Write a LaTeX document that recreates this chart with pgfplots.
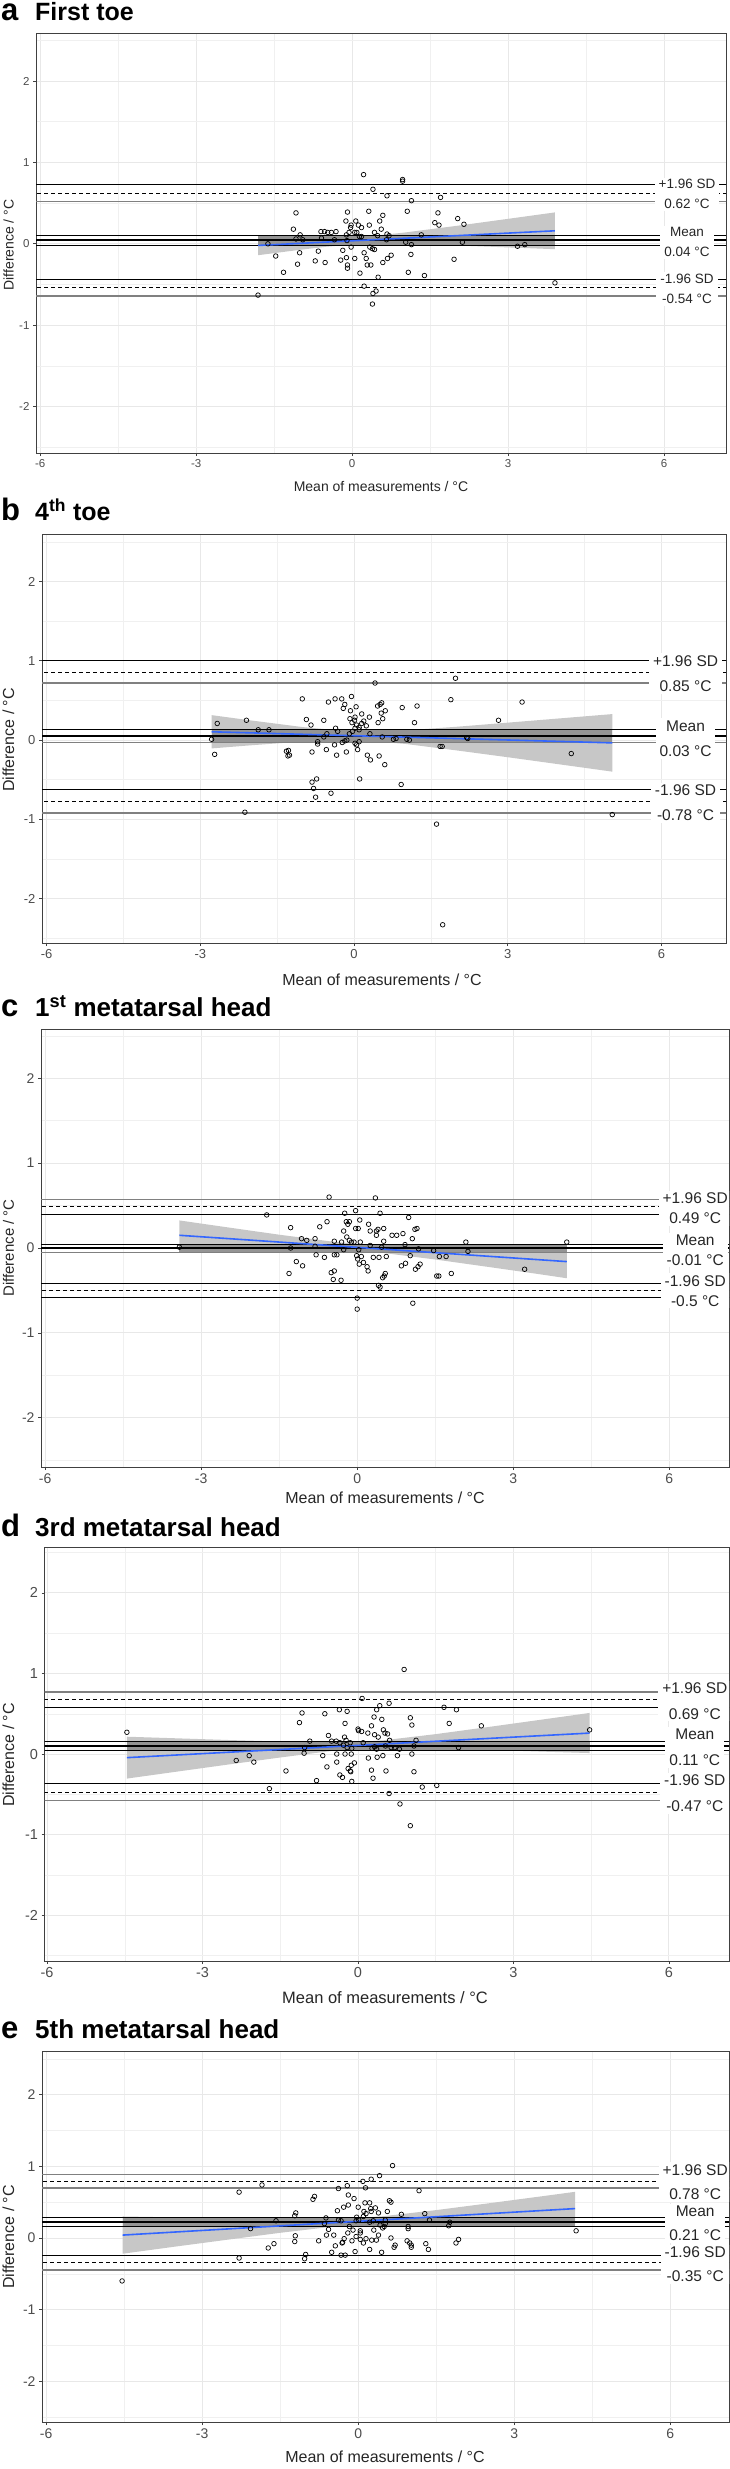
\documentclass[border=0pt]{standalone}
\usepackage{fontspec}
\setmainfont{Liberation Sans}
\usepackage{pgfplots}
\pgfplotsset{compat=1.18}

\definecolor{fitblue}{RGB}{51,102,255}
\tikzset{
  thinL/.style={black, line width=0.9pt},
  dashL/.style={black, line width=0.9pt, dash pattern=on 4pt off 3pt},
  grayL/.style={black!50, line width=1.4pt},
  meanL/.style={black, line width=2pt},
  lab/.style={fill=white, align=center, inner xsep=4pt, inner ysep=2pt, text=black!85},
}
\pgfplotsset{
  ba/.style={
    scale only axis, anchor=north west,
    axis line style={draw=black!75, line width=1pt},
    tick style={draw=black!75, line width=0.8pt},
    tick align=outside, major tick length=3pt, minor tick length=0pt,
    xtick={-6,-3,0,3,6}, xticklabels={-6,-3,0,3,6},
    ytick={-2,-1,0,1,2}, yticklabels={-2,-1,0,1,2},
    minor xtick={-4.5,-1.5,1.5,4.5},
    minor ytick={-2.5,-1.5,-0.5,0.5,1.5,2.5},
    grid=both,
    major grid style={black!9, line width=0.9pt},
    minor grid style={black!6, line width=0.5pt},
    xtick pos=left, ytick pos=left,
    ticklabel style={text=black!70},
  },
  pts/.style={only marks, mark=o, mark size=2.3pt, mark options={line width=0.7pt, black}},
  fit/.style={fitblue, line width=1.6pt, no marks},
}
\newcommand{\hl}[2]{\addplot[#2, no marks, forget plot] coordinates {(-7,#1) (8,#1)};}

\begin{document}
\begin{tikzpicture}
\path[use as bounding box] (0,0) rectangle (730pt,-2469pt);

% ---------------- a: First toe
\begin{axis}[ba, at={(36pt,-33pt)}, width=690pt, height=420pt,
  xmin=-6.08, xmax=7.19, ymin=-2.57, ymax=2.59,
  ticklabel style={font=\fontsize{11.5}{12}\selectfont}]
\addplot[fill=black!22, draw=none] coordinates {(-1.81,0.100)(-1,0.084)(-0.5,0.078)(0,0.082)(0.5,0.104)(1,0.138)(2,0.220)(3,0.307)(3.9,0.386)
  (3.9,-0.066)(3,-0.044)(2,-0.020)(1,0.000)(0.5,0.002)(0,-0.008)(-0.5,-0.036)(-1,-0.073)(-1.81,-0.140)} -- cycle;
\addplot[fill=black!42, draw=none] coordinates {(-1.81,0.10)(3.9,0.10)(3.9,-0.02)(-1.81,-0.02)} -- cycle;
\hl{0.73}{thinL}\hl{0.62}{dashL}\hl{0.52}{grayL}
\hl{0.10}{thinL}\hl{0.045}{meanL}\hl{-0.02}{thinL}
\hl{-0.44}{thinL}\hl{-0.54}{dashL}\hl{-0.64}{grayL}
\addplot[pts] coordinates {(0.22,0.85)(0.97,0.79)(0.97,0.77)(0.40,0.67)(0.67,0.59)(1.70,0.57)(1.14,0.53)(-1.08,0.38)(-0.09,0.39)(0.32,0.40)(1.06,0.40)(0.59,0.35)(1.65,0.38)(-0.12,0.28)(0.07,0.28)(0.53,0.28)(2.03,0.31)(1.59,0.26)(1.67,0.23)(2.15,0.24)(-0.02,0.23)(0.12,0.23)(0.33,0.23)(-0.03,0.20)(0.18,0.20)(-1.13,0.18)(0.56,0.18)(-0.60,0.15)(-0.53,0.15)(-0.47,0.14)(-0.40,0.14)(-0.31,0.15)(-1.00,0.11)(-0.06,0.14)(0.05,0.14)(0.09,0.14)(0.43,0.14)(0.67,0.12)(1.33,0.11)(-0.11,0.11)(0.14,0.09)(0.18,0.09)(0.49,0.10)(0.71,0.10)(-1.08,0.06)(-0.95,0.05)(-0.59,0.07)(-0.34,0.05)(-0.10,0.04)(0.66,0.05)(1.03,0.02)(2.12,0.02)(-1.62,0.00)(1.14,-0.01)(-0.02,-0.04)(0.34,-0.04)(0.39,-0.06)(0.43,-0.07)(3.18,-0.03)(3.32,-0.01)(-0.18,-0.08)(-0.65,-0.09)(-1.01,-0.11)(0.23,-0.11)(1.13,-0.13)(0.75,-0.14)(-1.47,-0.15)(-0.11,-0.17)(0.05,-0.18)(0.27,-0.18)(-0.22,-0.20)(0.68,-0.18)(1.96,-0.19)(-0.71,-0.21)(0.59,-0.23)(-0.52,-0.23)(-1.05,-0.25)(0.29,-0.26)(0.36,-0.26)(-0.09,-0.26)(-0.09,-0.30)(-1.32,-0.35)(1.08,-0.35)(0.15,-0.36)(1.39,-0.39)(0.50,-0.41)(3.90,-0.48)(0.23,-0.52)(0.46,-0.58)(0.40,-0.61)(-1.81,-0.63)(0.39,-0.74)};
\addplot[fit] coordinates {(-1.81,-0.02)(3.9,0.16)};
\node[lab, font=\fontsize{13.5}{19.7}\selectfont] at (axis cs:6.44,0.61) {+1.96 SD\\0.62 °C};
\node[lab, font=\fontsize{13.5}{19.7}\selectfont] at (axis cs:6.44,0.02) {Mean\\0.04 °C};
\node[lab, font=\fontsize{13.5}{19.7}\selectfont] at (axis cs:6.44,-0.555) {-1.96 SD\\-0.54 °C};
\end{axis}
\node[anchor=base west, inner sep=0, font=\fontsize{31}{31}\selectfont\bfseries] at (1pt,-20.7pt) {a};
\node[anchor=base west, inner sep=0, font=\fontsize{25}{25}\selectfont\bfseries] at (35pt,-20.7pt) {First toe};
\node[rotate=90, text=black!85, font=\fontsize{14}{14}\selectfont] at (8.5pt,-245pt) {Difference / °C};
\node[text=black!85, font=\fontsize{14}{14}\selectfont] at (381pt,-486pt) {Mean of measurements / °C};

% ---------------- b: 4th toe
\begin{axis}[ba, at={(42pt,-534pt)}, width=684pt, height=409pt,
  xmin=-6.09, xmax=7.26, ymin=-2.56, ymax=2.60,
  ticklabel style={font=\fontsize{13}{13}\selectfont}]
\addplot[fill=black!22, draw=none] coordinates {(-2.78,0.315)(-2,0.247)(-1,0.164)(0,0.105)(1,0.122)(2,0.168)(3,0.220)(4,0.273)(5.04,0.328)
  (5.04,-0.398)(4,-0.305)(3,-0.216)(2,-0.130)(1,-0.048)(0,0.005)(-1,-0.018)(-2,-0.065)(-2.78,-0.105)} -- cycle;
\addplot[fill=black!42, draw=none] coordinates {(-2.78,0.13)(5.04,0.13)(5.04,-0.03)(-2.78,-0.03)} -- cycle;
\hl{1.0}{thinL}\hl{0.855}{dashL}\hl{0.72}{grayL}
\hl{0.13}{thinL}\hl{0.05}{meanL}\hl{-0.03}{grayL}
\hl{-0.62}{thinL}\hl{-0.77}{dashL}\hl{-0.92}{grayL}
\addplot[pts] coordinates {(0.41,0.72)(1.98,0.78)(-1.01,0.52)(-0.50,0.48)(-0.37,0.52)(-0.24,0.52)(-0.05,0.55)(-0.18,0.45)(-0.21,0.40)(0.04,0.42)(0.51,0.45)(0.54,0.47)(0.46,0.43)(0.61,0.37)(0.53,0.34)(0.94,0.41)(1.23,0.43)(1.89,0.51)(-0.07,0.37)(0.15,0.33)(-0.93,0.26)(-0.59,0.25)(-0.84,0.19)(-0.08,0.27)(0.02,0.29)(0.30,0.29)(0.56,0.27)(-0.04,0.22)(0.01,0.25)(0.05,0.19)(0.10,0.16)(0.15,0.21)(0.19,0.24)(0.24,0.18)(0.02,0.15)(0.10,0.13)(0.47,0.22)(1.18,0.22)(-0.36,0.15)(-0.32,0.11)(-1.87,0.13)(-1.66,0.13)(-0.53,0.08)(-0.09,0.08)(-0.03,0.11)(-0.14,0.00)(0.31,0.08)(0.55,0.04)(0.77,0.01)(1.03,0.01)(-0.59,0.04)(-0.71,-0.02)(-0.71,-0.05)(-0.23,-0.03)(-0.18,-0.01)(-0.38,-0.06)(0.02,-0.04)(0.10,-0.02)(0.05,-0.06)(1.68,-0.08)(2.20,0.03)(0.07,-0.12)(-0.54,-0.12)(-0.82,-0.15)(-0.15,-0.15)(-1.32,-0.14)(-1.29,-0.20)(-0.34,-0.19)(0.26,-0.19)(0.32,-0.25)(0.49,-0.20)(0.60,-0.31)(0.11,-0.49)(0.92,-0.56)(-0.73,-0.49)(-0.82,-0.53)(-0.79,-0.61)(-0.75,-0.72)(-0.45,-0.67)(-2.78,0.01)(-2.72,-0.18)(-2.67,0.21)(-2.10,0.25)(-2.13,-0.91)(-1.28,-0.13)(-1.26,-0.19)(2.82,0.25)(3.28,0.48)(4.24,-0.17)(5.04,-0.94)(1.61,-1.06)(1.73,-2.33)(1.72,-0.08)(2.22,0.02)(0.82,0.02)(1.08,0.00)};
\addplot[fit] coordinates {(-2.78,0.105)(5.04,-0.035)};
\node[lab, font=\fontsize{15.5}{25.3}\selectfont] at (axis cs:6.47,0.84) {+1.96 SD\\0.85 °C};
\node[lab, font=\fontsize{15.5}{25.3}\selectfont] at (axis cs:6.47,0.02) {Mean\\0.03 °C};
\node[lab, font=\fontsize{15.5}{25.3}\selectfont] at (axis cs:6.47,-0.79) {-1.96 SD\\-0.78 °C};
\end{axis}
\node[anchor=base west, inner sep=0, font=\fontsize{31}{31}\selectfont\bfseries] at (1pt,-520.7pt) {b};
\node[anchor=base west, inner sep=0, font=\fontsize{25}{25}\selectfont\bfseries] at (35pt,-520.7pt) {4\textsuperscript{th} toe};
\node[rotate=90, text=black!85, font=\fontsize{16}{16}\selectfont] at (8.5pt,-740pt) {Difference / °C};
\node[text=black!85, font=\fontsize{16}{16}\selectfont] at (382pt,-980pt) {Mean of measurements / °C};

% ---------------- c: 1st metatarsal head
\begin{axis}[ba, at={(41pt,-1029pt)}, width=688pt, height=438pt,
  xmin=-6.08, xmax=7.15, ymin=-2.58, ymax=2.58,
  ticklabel style={font=\fontsize{14}{14}\selectfont}]
\addplot[fill=black!22, draw=none] coordinates {(-3.42,0.325)(-2.5,0.244)(-1.5,0.157)(-0.5,0.077)(0,0.047)(0.5,0.030)(1.5,0.023)(2.5,0.026)(3.5,0.030)(4.03,0.033)
  (4.03,-0.356)(3.5,-0.308)(2.5,-0.221)(1.5,-0.135)(0.5,-0.058)(0,-0.033)(-0.5,-0.021)(-1.5,-0.017)(-2.5,-0.021)(-3.42,-0.025)} -- cycle;
\addplot[fill=black!42, draw=none] coordinates {(-3.42,0.04)(4.03,0.04)(4.03,-0.055)(-3.42,-0.055)} -- cycle;
\hl{0.57}{grayL}\hl{0.49}{dashL}\hl{0.40}{thinL}
\hl{0.04}{thinL}\hl{-0.005}{meanL}\hl{-0.055}{grayL}
\hl{-0.42}{thinL}\hl{-0.50}{dashL}\hl{-0.58}{thinL}
\addplot[pts] coordinates {(-0.54,0.60)(0.35,0.59)(-0.03,0.44)(-0.24,0.41)(0.44,0.41)(0.99,0.36)(-1.28,0.24)(-0.72,0.25)(-0.58,0.31)(-0.21,0.31)(-0.15,0.31)(0.05,0.33)(-0.18,0.28)(0.22,0.28)(-0.03,0.23)(0.02,0.23)(-0.26,0.20)(0.25,0.20)(0.37,0.20)(0.40,0.22)(0.37,0.15)(0.51,0.23)(1.11,0.22)(1.15,0.23)(0.88,0.17)(0.67,0.15)(0.76,0.15)(-1.07,0.11)(-0.97,0.09)(-0.81,0.11)(-0.20,0.13)(-0.15,0.09)(-0.11,0.07)(-0.06,0.07)(0.06,0.07)(-0.44,0.08)(-0.30,0.07)(0.51,0.08)(1.06,0.11)(0.92,0.04)(2.09,0.07)(-1.28,0.00)(-0.81,0.02)(0.03,-0.02)(0.25,0.03)(0.47,0.01)(1.18,-0.01)(1.47,-0.03)(2.13,-0.04)(-0.26,-0.02)(-0.79,-0.08)(-0.63,-0.11)(-0.44,-0.08)(-0.39,-0.08)(-0.01,-0.09)(0.08,-0.10)(0.01,-0.13)(0.04,-0.19)(0.31,-0.11)(0.42,-0.11)(0.56,-0.10)(1.02,-0.09)(1.58,-0.10)(1.71,-0.10)(-1.17,-0.16)(-1.05,-0.21)(0.12,-0.17)(0.19,-0.22)(0.21,-0.27)(0.85,-0.21)(0.93,-0.18)(1.21,-0.19)(1.17,-0.22)(1.12,-0.25)(-1.31,-0.30)(-0.50,-0.29)(-0.44,-0.27)(-0.46,-0.37)(-0.31,-0.38)(0.54,-0.30)(0.52,-0.33)(0.49,-0.35)(1.53,-0.33)(1.57,-0.33)(1.81,-0.30)(0.41,-0.44)(0.44,-0.46)(0.00,-0.59)(0.00,-0.72)(1.07,-0.65)(-3.42,0.01)(-1.74,0.39)(3.22,-0.25)(4.03,0.07)};
\addplot[fit] coordinates {(-3.42,0.15)(4.03,-0.16)};
\node[lab, font=\fontsize{15.5}{20}\selectfont] at (axis cs:6.5,0.465) {+1.96 SD\\0.49 °C};
\node[lab, font=\fontsize{15.5}{20}\selectfont] at (axis cs:6.5,-0.023) {Mean\\-0.01 °C};
\node[lab, font=\fontsize{15.5}{20}\selectfont] at (axis cs:6.5,-0.505) {-1.96 SD\\-0.5 °C};
\end{axis}
\node[anchor=base west, inner sep=0, font=\fontsize{31}{31}\selectfont\bfseries] at (1pt,-1016.7pt) {c};
\node[anchor=base west, inner sep=0, font=\fontsize{26}{26}\selectfont\bfseries] at (35pt,-1016.7pt) {1\textsuperscript{st} metatarsal head};
\node[rotate=90, text=black!85, font=\fontsize{15}{15}\selectfont] at (8.5pt,-1248pt) {Difference / °C};
\node[text=black!85, font=\fontsize{16}{16}\selectfont] at (385pt,-1498pt) {Mean of measurements / °C};

% ---------------- d: 3rd metatarsal head
\begin{axis}[ba, at={(44.5pt,-1547pt)}, width=684.5pt, height=414pt,
  xmin=-6.05, xmax=7.16, ymin=-2.57, ymax=2.57,
  ticklabel style={font=\fontsize{14.5}{14.5}\selectfont}]
\addplot[fill=black!22, draw=none] coordinates {(-4.46,0.215)(-3.5,0.195)(-2.5,0.174)(-1.5,0.155)(-0.5,0.143)(0,0.148)(0.5,0.171)(1.5,0.247)(2.5,0.334)(3.5,0.423)(4.47,0.510)
  (4.47,0.012)(3.5,0.031)(2.5,0.052)(1.5,0.071)(0.5,0.079)(0,0.068)(-0.5,0.039)(-1.5,-0.043)(-2.5,-0.130)(-3.5,-0.219)(-4.46,-0.305)} -- cycle;
\addplot[fill=black!42, draw=none] coordinates {(-4.46,0.15)(4.47,0.15)(4.47,0.04)(-4.46,0.04)} -- cycle;
\hl{0.77}{grayL}\hl{0.68}{dashL}\hl{0.58}{thinL}
\hl{0.15}{thinL}\hl{0.10}{meanL}\hl{0.04}{thinL}
\hl{-0.37}{thinL}\hl{-0.48}{dashL}\hl{-0.58}{grayL}
\addplot[pts] coordinates {(0.89,1.05)(0.08,0.69)(0.42,0.60)(0.60,0.63)(-1.08,0.51)(-0.64,0.50)(-0.36,0.55)(-0.21,0.53)(0.36,0.55)(1.66,0.58)(1.90,0.55)(-1.13,0.39)(-0.25,0.38)(0.31,0.46)(0.46,0.43)(1.01,0.45)(1.04,0.36)(1.76,0.38)(2.38,0.35)(0.26,0.35)(0.00,0.31)(0.01,0.29)(0.07,0.28)(0.19,0.26)(0.32,0.24)(0.49,0.30)(0.52,0.26)(0.57,0.25)(-0.57,0.23)(-0.26,0.21)(-0.23,0.17)(-0.93,0.16)(-0.51,0.16)(-0.42,0.16)(-0.35,0.14)(-0.15,0.14)(0.10,0.14)(0.39,0.21)(0.61,0.17)(1.12,0.17)(-1.03,0.08)(-0.28,0.11)(-0.21,0.08)(-0.12,0.07)(0.27,0.07)(0.32,0.09)(0.36,0.06)(0.53,0.10)(0.64,0.08)(0.71,0.08)(0.80,0.06)(1.08,0.10)(1.94,0.08)(-1.04,0.01)(-0.41,0.00)(-0.25,0.00)(-0.13,0.00)(-0.68,-0.02)(0.20,-0.05)(0.37,-0.04)(0.48,-0.02)(0.76,-0.02)(1.04,0.00)(-0.41,-0.10)(-0.60,-0.16)(-0.19,-0.18)(-0.15,-0.21)(-0.13,-0.14)(-0.07,-0.11)(0.26,-0.20)(0.54,-0.21)(1.08,-0.22)(-0.35,-0.26)(-0.30,-0.29)(-0.14,-0.22)(0.29,-0.30)(-0.80,-0.33)(-0.12,-0.34)(1.24,-0.41)(1.52,-0.39)(0.60,-0.49)(0.81,-0.62)(1.01,-0.89)(-4.46,0.27)(-2.35,-0.08)(-2.10,-0.02)(-2.01,-0.10)(-1.71,-0.43)(-1.39,-0.21)(4.47,0.30)};
\addplot[fit] coordinates {(-4.46,-0.045)(4.47,0.26)};
\node[lab, font=\fontsize{15.5}{25.7}\selectfont] at (axis cs:6.5,0.66) {+1.96 SD\\0.69 °C};
\node[lab, font=\fontsize{15.5}{25.7}\selectfont] at (axis cs:6.5,0.08) {Mean\\0.11 °C};
\node[lab, font=\fontsize{15.5}{25.7}\selectfont] at (axis cs:6.5,-0.49) {-1.96 SD\\-0.47 °C};
\end{axis}
\node[anchor=base west, inner sep=0, font=\fontsize{31}{31}\selectfont\bfseries] at (1pt,-1536.7pt) {d};
\node[anchor=base west, inner sep=0, font=\fontsize{26}{26}\selectfont\bfseries] at (35pt,-1536.7pt) {3rd metatarsal head};
\node[rotate=90, text=black!85, font=\fontsize{16}{16}\selectfont] at (8.5pt,-1755pt) {Difference / °C};
\node[text=black!85, font=\fontsize{16.5}{16.5}\selectfont] at (385pt,-1998pt) {Mean of measurements / °C};

% ---------------- e: 5th metatarsal head
\begin{axis}[ba, at={(42pt,-2051pt)}, width=687pt, height=371pt,
  xmin=-6.08, xmax=7.13, ymin=-2.57, ymax=2.61,
  ticklabel style={font=\fontsize{14}{14}\selectfont}]
\addplot[fill=black!22, draw=none] coordinates {(-4.53,0.30)(-3.5,0.287)(-2.5,0.275)(-1.5,0.266)(-0.5,0.265)(0,0.278)(0.5,0.305)(1.5,0.389)(2.5,0.483)(3.5,0.579)(4.17,0.644)
  (4.17,0.176)(3.5,0.183)(2.5,0.195)(1.5,0.203)(0.5,0.203)(0,0.188)(-0.5,0.157)(-1.5,0.072)(-2.5,-0.023)(-3.5,-0.119)(-4.53,-0.22)} -- cycle;
\addplot[fill=black!42, draw=none] coordinates {(-4.53,0.285)(4.17,0.285)(4.17,0.165)(-4.53,0.165)} -- cycle;
\hl{0.89}{grayL}\hl{0.795}{dashL}\hl{0.70}{grayL}
\hl{0.285}{thinL}\hl{0.225}{meanL}\hl{0.165}{thinL}
\hl{-0.25}{thinL}\hl{-0.34}{dashL}\hl{-0.45}{grayL}
\addplot[pts] coordinates {(0.66,1.01)(0.41,0.87)(0.25,0.82)(0.09,0.79)(-0.21,0.73)(-0.38,0.69)(0.14,0.70)(1.17,0.66)(-0.19,0.60)(-0.08,0.55)(-0.87,0.54)(0.13,0.49)(0.22,0.49)(0.60,0.52)(0.63,0.50)(-0.19,0.46)(-0.28,0.43)(0.00,0.43)(0.24,0.41)(0.33,0.42)(-0.40,0.38)(0.11,0.37)(0.15,0.34)(0.25,0.37)(0.39,0.35)(0.56,0.37)(0.83,0.33)(1.28,0.34)(-1.22,0.31)(-0.62,0.28)(-0.03,0.29)(0.10,0.30)(-0.38,0.25)(-0.33,0.24)(-0.04,0.24)(0.01,0.25)(-0.65,0.20)(0.22,0.22)(0.29,0.24)(0.52,0.25)(0.52,0.20)(0.42,0.18)(0.47,0.14)(0.50,0.16)(1.37,0.25)(0.96,0.16)(0.96,0.13)(1.76,0.22)(1.74,0.17)(-0.57,0.12)(-0.17,0.16)(-0.10,0.11)(0.04,0.10)(0.04,0.07)(0.30,0.11)(-1.21,0.03)(-0.20,0.07)(-0.61,0.04)(-0.47,0.04)(-0.04,0.02)(0.39,0.04)(0.63,0.00)(0.15,-0.01)(-0.27,-0.01)(-0.30,-0.06)(-0.31,-0.07)(-1.22,-0.05)(-0.76,-0.04)(-0.12,-0.04)(0.04,-0.02)(0.26,-0.03)(0.35,-0.03)(0.94,-0.04)(0.99,-0.07)(-0.44,-0.11)(0.10,-0.07)(0.71,-0.10)(0.69,-0.13)(1.30,-0.08)(1.35,-0.16)(1.02,-0.10)(1.02,-0.13)(1.88,-0.07)(-0.06,-0.19)(0.22,-0.16)(-0.51,-0.20)(-0.33,-0.24)(-0.25,-0.24)(0.45,-0.20)(-1.03,-0.29)(-4.54,-0.60)(-2.29,0.64)(-2.29,-0.28)(-1.85,0.74)(-2.07,0.13)(-1.58,0.24)(-1.73,-0.14)(-1.62,-0.08)(-1.20,0.35)(-0.84,0.58)(-1.01,-0.23)(4.19,0.10)(1.93,-0.02)};
\addplot[fit] coordinates {(-4.53,0.04)(4.17,0.41)};
\node[lab, font=\fontsize{15.5}{24.3}\selectfont] at (axis cs:6.48,0.78) {+1.96 SD\\0.78 °C};
\node[lab, font=\fontsize{15.5}{24.3}\selectfont] at (axis cs:6.48,0.205) {Mean\\0.21 °C};
\node[lab, font=\fontsize{15.5}{24.3}\selectfont] at (axis cs:6.48,-0.37) {-1.96 SD\\-0.35 °C};
\end{axis}
\node[anchor=base west, inner sep=0, font=\fontsize{31}{31}\selectfont\bfseries] at (1pt,-2038pt) {e};
\node[anchor=base west, inner sep=0, font=\fontsize{26}{26}\selectfont\bfseries] at (35pt,-2038pt) {5th metatarsal head};
\node[rotate=90, text=black!85, font=\fontsize{16}{16}\selectfont] at (8.5pt,-2237pt) {Difference / °C};
\node[text=black!85, font=\fontsize{16}{16}\selectfont] at (385pt,-2457pt) {Mean of measurements / °C};
\end{tikzpicture}
\end{document}
